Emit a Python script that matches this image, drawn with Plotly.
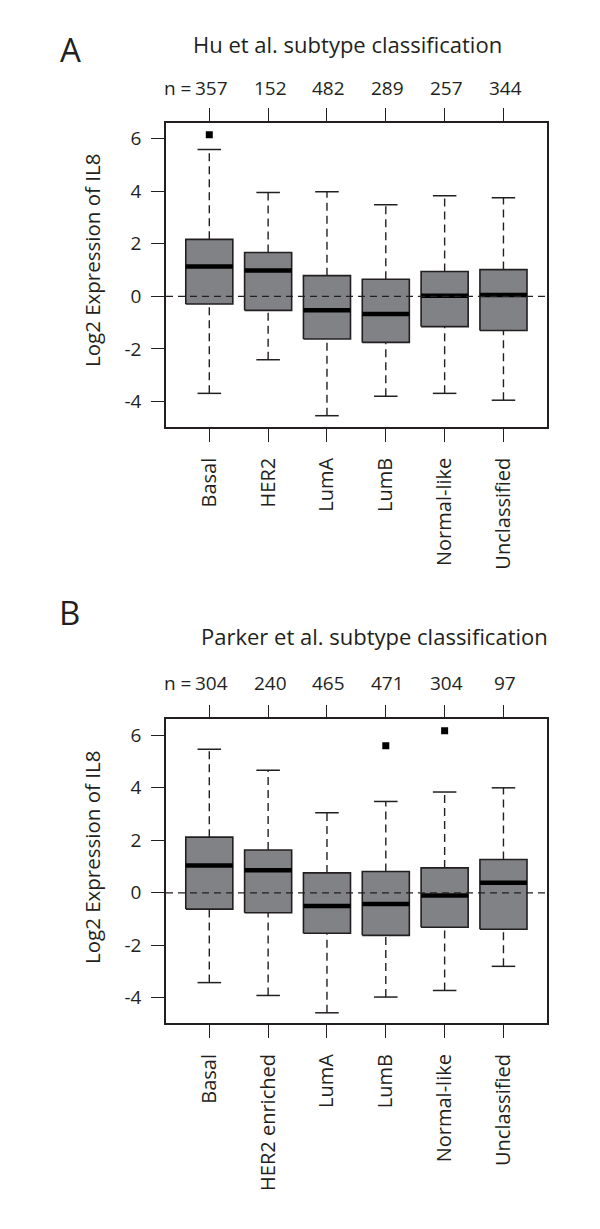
import plotly.graph_objects as go

# Panel A - Hu et al.
hu_cats = ['Basal', 'HER2', 'LumA', 'LumB', 'Normal-like', 'Unclassified']
hu_n = [357, 152, 482, 289, 257, 344]
hu_q1 = [-0.29, -0.53, -1.62, -1.75, -1.15, -1.30]
hu_med = [1.14, 0.99, -0.53, -0.67, 0.02, 0.05]
hu_q3 = [2.17, 1.67, 0.79, 0.65, 0.95, 1.02]
hu_lo = [-3.69, -2.41, -4.54, -3.80, -3.69, -3.95]
hu_hi = [5.59, 3.95, 3.98, 3.49, 3.83, 3.75]
hu_out_cat = ['Basal']
hu_out_val = [6.15]

# Panel B - Parker et al.
pk_cats = ['Basal', 'HER2 enriched', 'LumA', 'LumB', 'Normal-like', 'Unclassified']
pk_n = [304, 240, 465, 471, 304, 97]
pk_q1 = [-0.62, -0.76, -1.54, -1.62, -1.31, -1.39]
pk_med = [1.04, 0.86, -0.50, -0.43, -0.10, 0.38]
pk_q3 = [2.12, 1.63, 0.76, 0.81, 0.95, 1.27]
pk_lo = [-3.42, -3.91, -4.57, -3.97, -3.72, -2.80]
pk_hi = [5.47, 4.67, 3.05, 3.48, 3.84, 4.00]
pk_out_cat = ['LumB', 'Normal-like']
pk_out_val = [5.60, 6.17]

INK = '#231f20'
BOXFILL = '#818285'
FONT = 'Open Sans'
# the page body has an 8px margin, so the figure is 8px smaller than the window
OFF = 8
W, H = 600 - OFF, 1229 - OFF
BOX_HW = 0.4
STAPLE_HW = 0.2


def px_x(p):
    return (p - OFF) / W


def px_y(p):
    return 1 - (p - OFF) / H


def add_panel(fig, cats, q1, med, q3, lo, hi, out_cat, out_val, xa, ya):
    pos = list(range(1, len(cats) + 1))
    # whiskers (dashed)
    wx, wy = [], []
    for p, a, b, c, d in zip(pos, lo, q1, q3, hi):
        wx += [p, p, None, p, p, None]
        wy += [a, b, None, c, d, None]
    fig.add_trace(go.Scatter(x=wx, y=wy, mode='lines', xaxis=xa, yaxis=ya,
                             line=dict(color=INK, width=1.4, dash='8px,5px'),
                             hoverinfo='skip'))
    # staples
    sx, sy = [], []
    for p, a, d in zip(pos, lo, hi):
        sx += [p - STAPLE_HW, p + STAPLE_HW, None, p - STAPLE_HW, p + STAPLE_HW, None]
        sy += [a, a, None, d, d, None]
    fig.add_trace(go.Scatter(x=sx, y=sy, mode='lines', xaxis=xa, yaxis=ya,
                             line=dict(color=INK, width=1.5), hoverinfo='skip'))
    # boxes
    bx, by = [], []
    for p, b, c in zip(pos, q1, q3):
        bx += [p - BOX_HW, p + BOX_HW, p + BOX_HW, p - BOX_HW, p - BOX_HW, None]
        by += [b, b, c, c, b, None]
    fig.add_trace(go.Scatter(x=bx, y=by, mode='lines', fill='toself',
                             fillcolor=BOXFILL, xaxis=xa, yaxis=ya,
                             line=dict(color=INK, width=1.6), hoverinfo='skip'))
    # medians
    mx, my = [], []
    for p, m in zip(pos, med):
        mx += [p - BOX_HW, p + BOX_HW, None]
        my += [m, m, None]
    fig.add_trace(go.Scatter(x=mx, y=my, mode='lines', xaxis=xa, yaxis=ya,
                             line=dict(color='black', width=4.5), hoverinfo='skip'))
    # outliers
    ox = [cats.index(c) + 1 for c in out_cat]
    fig.add_trace(go.Scatter(x=ox, y=out_val, mode='markers', xaxis=xa, yaxis=ya,
                             marker=dict(symbol='square', size=7, color='black'),
                             hoverinfo='skip'))


fig = go.Figure()
add_panel(fig, hu_cats, hu_q1, hu_med, hu_q3, hu_lo, hu_hi, hu_out_cat, hu_out_val, 'x', 'y')
add_panel(fig, pk_cats, pk_q1, pk_med, pk_q3, pk_lo, pk_hi, pk_out_cat, pk_out_val, 'x2', 'y2')

x_dom = [px_x(166), px_x(547)]
xrange = [0.264, 6.74]
yrange = [-4.97, 6.61]


def xaxis_cfg(cats, anchor):
    return dict(domain=x_dom, range=xrange, anchor=anchor,
                tickmode='array', tickvals=list(range(1, len(cats) + 1)), ticktext=cats,
                tickangle=-90, ticks='outside', ticklen=13, tickwidth=1.4, tickcolor=INK,
                ticklabelstandoff=8,
                showline=True, linecolor=INK, linewidth=1.5, mirror='ticks',
                showgrid=False, zeroline=False,
                tickfont=dict(family=FONT, size=20, color=INK))


def yaxis_cfg(domain, anchor):
    return dict(domain=domain, range=yrange, anchor=anchor,
                tickmode='array', tickvals=[-4, -2, 0, 2, 4, 6], ticktext=['-4', '-2', '0', '2', '4', '6'],
                ticks='outside', ticklen=13, tickwidth=1.4, tickcolor=INK,
                ticklabelstandoff=6,
                showline=True, linecolor=INK, linewidth=1.5, mirror=True,
                showgrid=False, zeroline=False,
                tickfont=dict(family=FONT, size=19, color=INK))


fig.update_layout(
    width=W, height=H,
    margin=dict(l=0, r=0, t=0, b=0),
    paper_bgcolor='white', plot_bgcolor='white',
    showlegend=False,
    font=dict(family=FONT, color=INK),
    xaxis=xaxis_cfg(hu_cats, 'y'),
    yaxis=yaxis_cfg([px_y(427), px_y(122.7)], 'x'),
    xaxis2=xaxis_cfg(pk_cats, 'y2'),
    yaxis2=yaxis_cfg([px_y(1023.3), px_y(719.3)], 'x2'),
)

# dashed zero reference lines
for xr, yr in [('x', 'y'), ('x2', 'y2')]:
    fig.add_shape(type='line', xref=xr + ' domain', yref=yr, x0=0, x1=1, y0=0, y1=0,
                  line=dict(color=INK, width=1.4, dash='7px,5px'), layer='above')

annots = []
# panel letters and titles
annots.append(dict(text='A', x=px_x(70), y=px_y(50), font=dict(size=33)))
annots.append(dict(text='Hu et al. subtype classification', x=px_x(347.5), y=px_y(43.5), font=dict(size=22)))
annots.append(dict(text='B', x=px_x(69), y=px_y(612), font=dict(size=33)))
annots.append(dict(text='Parker et al. subtype classification', x=px_x(374), y=px_y(636), font=dict(size=22)))
# y axis titles
annots.append(dict(text='Log2 Expression of IL8', x=px_x(92), y=px_y(261), textangle=-90, font=dict(size=20.5)))
annots.append(dict(text='Log2 Expression of IL8', x=px_x(92), y=px_y(858), textangle=-90, font=dict(size=20.5)))
for a in annots:
    a.update(xref='paper', yref='paper', showarrow=False, xanchor='center', yanchor='middle')
    a['font'].update(family=FONT, color=INK)
    fig.add_annotation(**a)

# sample sizes above the panels
for xr, counts, ycen in [('x', hu_n, 88.3), ('x2', pk_n, 683.3)]:
    for i, n in enumerate(counts):
        fig.add_annotation(text=str(n), x=i + 1, xref=xr, y=px_y(ycen), yref='paper',
                           showarrow=False, xanchor='center', yanchor='middle', xshift=2,
                           font=dict(family=FONT, size=19, color=INK))
    fig.add_annotation(text='n =', x=1, xref=xr, y=px_y(ycen), yref='paper',
                       showarrow=False, xanchor='right', yanchor='middle', xshift=-16,
                       font=dict(family=FONT, size=19, color=INK))

fig.write_html("out.html")
